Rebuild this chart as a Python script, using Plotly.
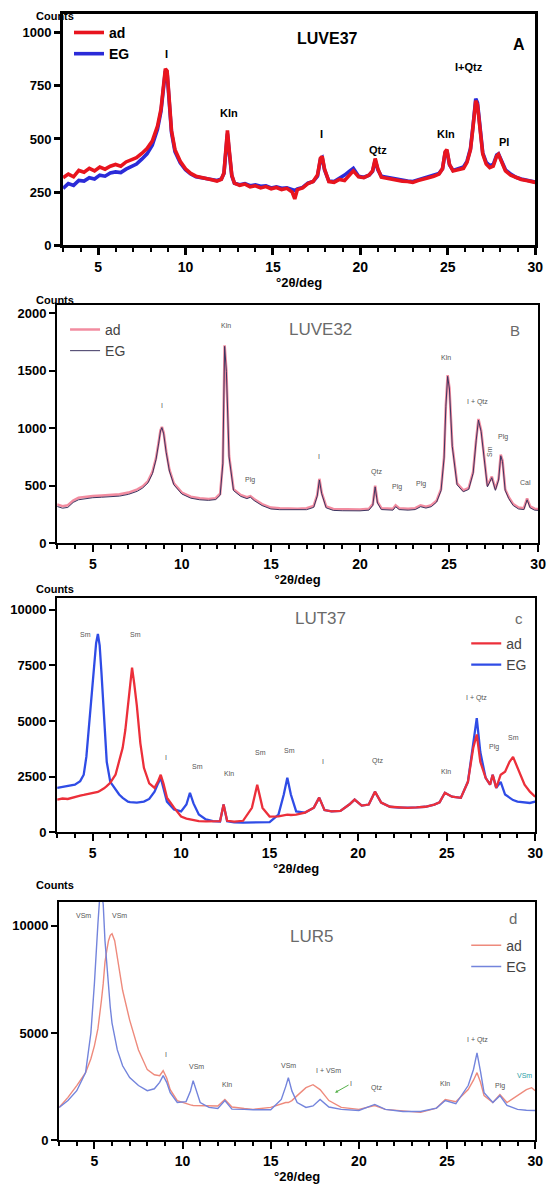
import plotly.graph_objects as go

W, H = 556, 1186

# ---------------- Panel A : LUVE37 ----------------
x_a = [
    3.0, 3.3, 3.6, 3.9, 4.2, 4.5, 4.8, 5.1, 5.4, 5.7,
    6.0, 6.3, 6.6, 6.9, 7.2, 7.5, 7.8, 8.1, 8.4, 8.6,
    8.75, 8.85, 8.95, 9.05, 9.2, 9.4, 9.7, 10.0, 10.3, 10.6,
    10.9, 11.2, 11.5, 11.8, 12.05, 12.2, 12.32, 12.4, 12.5, 12.65,
    12.8, 13.1, 13.4, 13.7, 14.0, 14.3, 14.6, 14.9, 15.2, 15.5,
    15.8, 16.1, 16.25, 16.4, 16.7, 17.0, 17.3, 17.55, 17.72, 17.82,
    17.95, 18.2, 18.5, 18.8, 19.1, 19.4, 19.6, 19.9, 20.2, 20.5,
    20.7, 20.85, 21.0, 21.2, 21.5, 21.8, 22.1, 22.4, 22.7, 23.0,
    23.3, 23.6, 23.9, 24.2, 24.5, 24.7, 24.85, 24.95, 25.1, 25.3,
    25.6, 25.9, 26.1, 26.3, 26.45, 26.6, 26.7, 26.85, 27.0, 27.2,
    27.4, 27.6, 27.8, 27.9, 28.05, 28.3, 28.6, 28.9, 29.2, 29.5,
    29.8, 30.0,
]
ad_a = [
    318, 335, 322, 352, 344, 362, 350, 368, 358, 372,
    380, 372, 392, 400, 412, 432, 455, 490, 560, 640,
    750, 830, 820, 700, 540, 450, 395, 360, 338, 325,
    318, 312, 308, 302, 310, 340, 460, 540, 450, 330,
    292, 282, 288, 275, 280, 270, 276, 266, 272, 262,
    268, 250, 218, 262, 270, 290, 300, 330, 410, 418,
    360, 300, 296, 310, 305, 330, 350, 322, 318, 330,
    350, 408, 360, 320, 315, 308, 305, 302, 300, 296,
    305, 310, 318, 325, 335, 360, 440, 450, 380, 350,
    355, 362, 390, 450, 560, 680, 660, 540, 430, 382,
    365, 372, 420, 428, 395, 350, 330, 318, 310, 305,
    298, 296,
]
eg_a = [
    268, 290, 282, 305, 302, 318, 312, 330, 325, 340,
    345, 342, 358, 368, 382, 405, 430, 470, 545, 630,
    745, 820, 810, 690, 530, 440, 388, 355, 335, 322,
    318, 315, 310, 305, 312, 338, 450, 525, 440, 325,
    292, 285, 290, 280, 284, 278, 280, 270, 275, 268,
    270, 262, 258, 265, 272, 292, 300, 325, 405, 412,
    355, 302, 300, 315, 330, 350, 362, 325, 320, 330,
    348, 400, 355, 325, 320, 315, 310, 305, 302, 300,
    308, 312, 320, 328, 338, 360, 435, 445, 378, 352,
    360, 368, 395, 455, 565, 690, 670, 545, 435, 390,
    375, 380, 425, 430, 400, 355, 335, 320, 312, 308,
    300, 298,
]
lab_a = ["I", "Kln", "I", "Qtz", "Kln", "I+Qtz", "Pl"]
lab_a_x = [8.9, 12.5, 17.8, 21.0, 24.9, 26.2, 28.2]
lab_a_y = [900, 623, 523, 450, 523, 837, 487]

# ---------------- Panel B : LUVE32 ----------------
x_b = [
    3.0, 3.3, 3.6, 3.9, 4.2, 4.6, 5.0, 5.5, 6.0, 6.5,
    7.0, 7.5, 7.8, 8.1, 8.35, 8.55, 8.7, 8.8, 8.88, 8.98,
    9.12, 9.3, 9.55, 10.0, 10.5, 11.0, 11.5, 11.9, 12.15, 12.3,
    12.4, 12.5, 12.65, 12.9, 13.3, 13.65, 13.85, 14.05, 14.5, 15.0,
    15.5, 16.0, 16.5, 17.0, 17.4, 17.6, 17.72, 17.85, 18.1, 18.5,
    19.0, 19.5, 20.0, 20.5, 20.72, 20.85, 20.98, 21.2, 21.6, 21.85,
    22.0, 22.2, 22.7, 23.1, 23.4, 23.7, 24.0, 24.3, 24.55, 24.72,
    24.82, 24.92, 25.02, 25.18, 25.45, 25.8, 26.1, 26.35, 26.52, 26.65,
    26.8, 26.95, 27.15, 27.4, 27.6, 27.78, 27.9, 28.0, 28.15, 28.35,
    28.6, 28.9, 29.2, 29.38, 29.55, 29.8, 30.0,
]
ad_b = [
    338, 322, 330, 372, 395, 405, 410, 414, 418, 425,
    440, 468, 495, 540, 620, 740, 880, 980, 1010, 960,
    800, 640, 520, 440, 405, 390, 385, 392, 430, 700,
    1720, 1500, 760, 470, 420, 400, 410, 385, 340, 310,
    305, 302, 300, 305, 325, 420, 560, 440, 320, 298,
    295, 292, 294, 300, 340, 500, 360, 305, 298, 300,
    330, 305, 300, 305, 330, 318, 330, 370, 470, 750,
    1200, 1460, 1350, 850, 520, 460, 480, 620, 900, 1080,
    980, 760, 500, 580, 470, 560, 770, 720, 470, 400,
    340, 310, 305, 390, 320, 300, 298,
]
eg_b = [
    320, 305, 312, 355, 378, 390, 396, 400, 404, 410,
    425, 452, 480, 525, 605, 728, 870, 975, 1005, 950,
    790, 628, 508, 428, 392, 378, 373, 380, 418, 690,
    1710, 1490, 750, 458, 408, 388, 400, 372, 328, 298,
    292, 290, 288, 292, 312, 410, 550, 430, 308, 286,
    283, 280, 282, 288, 330, 490, 350, 293, 286, 288,
    318, 293, 288, 293, 318, 306, 318, 358, 458, 740,
    1190, 1450, 1340, 840, 508, 448, 468, 608, 890, 1070,
    970, 750, 490, 570, 460, 550, 760, 710, 460, 388,
    328, 298, 293, 378, 308, 288, 286,
]
lab_b = ["I", "Kln", "Plg", "I", "Qtz", "Plg", "Plg", "Kln", "I + Qtz", "Plg", "Cal"]
lab_b_x = [8.9, 12.5, 13.8, 17.7, 20.9, 22.1, 23.4, 24.8, 26.6, 28.0, 29.3]
lab_b_y = [1198, 1888, 550, 750, 620, 490, 517, 1612, 1224, 922, 525]

# ---------------- Panel C : LUT37 ----------------
x_c = [
    3.0, 3.3, 3.6, 4.0, 4.3, 4.5, 4.65, 4.8, 4.95, 5.1,
    5.2, 5.3, 5.4, 5.5, 5.65, 5.8, 6.0, 6.3, 6.5, 6.7,
    6.85, 7.0, 7.12, 7.23, 7.35, 7.5, 7.7, 7.9, 8.2, 8.5,
    8.7, 8.85, 9.0, 9.2, 9.6, 10.0, 10.3, 10.5, 10.7, 11.0,
    11.4, 11.8, 12.2, 12.4, 12.6, 13.0, 13.5, 14.0, 14.3, 14.6,
    15.0, 15.5, 15.8, 16.0, 16.2, 16.5, 17.0, 17.5, 17.8, 18.1,
    18.5, 19.0, 19.5, 19.8, 20.2, 20.6, 20.95, 21.3, 21.8, 22.3,
    22.8, 23.3, 23.8, 24.3, 24.6, 24.9, 25.3, 25.8, 26.2, 26.5,
    26.7, 26.9, 27.2, 27.45, 27.6, 27.8, 28.05, 28.3, 28.55, 28.75,
    29.0, 29.4, 29.7, 30.0,
]
ad_c = [
    1470, 1520, 1500, 1600, 1650, 1680, 1700, 1720, 1760, 1780,
    1800, 1820, 1860, 1900, 1980, 2080, 2230, 2600, 3170, 3800,
    4600, 5700, 6700, 7400, 6700, 5700, 4000, 2900, 2200, 2000,
    2300, 2590, 2200, 1560, 1110, 710, 620, 580, 540, 500,
    490, 480, 500, 1250, 520, 480, 520, 1100, 2140, 1100,
    710, 720, 760, 800, 780, 800, 890, 1110, 1560, 1000,
    940, 960, 1250, 1470, 1200, 1250, 1830, 1340, 1150, 1110,
    1100, 1120, 1150, 1250, 1350, 1780, 1600, 1550, 2270, 3790,
    4400, 3170, 2450, 2140, 2590, 2000, 2590, 2720, 3170, 3390,
    2940, 2140, 1830, 1600,
]
eg_c = [
    2000, 2050, 2080, 2140, 2300, 2590, 3400, 4800, 6000, 7300,
    8500, 8920, 8400, 7200, 5260, 3170, 2270, 1900, 1700, 1550,
    1450, 1380, 1360, 1350, 1340, 1340, 1360, 1380, 1500, 1830,
    2200, 2450, 2000, 1380, 1030, 940, 1250, 1780, 1300, 800,
    580, 500, 490, 1250, 500, 450, 440, 450, 460, 450,
    460, 800, 1700, 2450, 1700, 940, 890, 1110, 1560, 1000,
    940, 960, 1250, 1470, 1200, 1250, 1830, 1340, 1150, 1110,
    1100, 1120, 1150, 1250, 1350, 1780, 1600, 1550, 2270, 4060,
    5130, 3610, 2450, 2140, 2590, 2000, 2270, 1700, 1560, 1450,
    1380, 1340, 1320, 1380,
]
lab_c = ["Sm", "Sm", "I", "Sm", "Kln", "Sm", "Sm", "I", "Qtz", "Kln", "I + Qtz", "Plg", "Sm"]
lab_c_x = [4.6, 7.4, 9.15, 10.9, 12.7, 14.5, 16.1, 18.0, 21.1, 24.95, 26.7, 27.7, 28.8]
lab_c_y = [8875, 8875, 3345, 2940, 2630, 3610, 3660, 3170, 3210, 2720, 6020, 3835, 4280]

# ---------------- Panel D : LUR5 ----------------
x_d = [
    3.0, 3.5, 4.0, 4.5, 4.8, 5.0, 5.2, 5.3, 5.4, 5.5,
    5.6, 5.7, 5.8, 5.9, 6.0, 6.15, 6.3, 6.6, 7.0, 7.5,
    8.0, 8.4, 8.7, 8.9, 9.1, 9.3, 9.7, 10.2, 10.45, 10.6,
    10.8, 11.0, 11.5, 12.0, 12.4, 12.8, 13.5, 14.0, 15.0, 15.6,
    15.85, 16.0, 16.2, 16.5, 17.0, 17.4, 17.8, 18.3, 19.0, 20.0,
    20.9, 21.5, 22.5, 23.5, 24.4, 24.9, 25.5, 26.2, 26.5, 26.7,
    26.9, 27.1, 27.6, 28.0, 28.4, 29.0, 29.5, 29.8, 30.0,
]
eg_d = [
    1530, 1850, 2310, 3150, 5000, 7300, 10100, 11300, 11600, 11000,
    9300, 8100, 7000, 6200, 5460, 4800, 4210, 3470, 2920, 2550,
    2310, 2400, 2700, 3010, 2700, 2220, 1760, 1800, 2300, 2780,
    2300, 1760, 1530, 1480, 1850, 1450, 1440, 1420, 1420, 1900,
    2500, 2920, 2300, 1760, 1530, 1600, 1900, 1550, 1440, 1390,
    1670, 1440, 1340, 1340, 1500, 1850, 1700, 2550, 3300, 4070,
    3200, 2220, 1760, 2080, 1620, 1440, 1400, 1390, 1390,
]
ad_d = [
    1530, 2000, 2550, 3150, 3800, 4400, 5200, 5800, 6530, 7300,
    8300, 8840, 9300, 9550, 9630, 9300, 8560, 6990, 5600, 4210,
    3290, 3050, 3010, 3240, 2900, 2360, 1850, 1700, 1650, 1620,
    1620, 1620, 1600, 1600, 1900, 1550, 1480, 1440, 1530, 1700,
    1760, 1760, 1850, 2080, 2450, 2590, 2360, 1850, 1530, 1440,
    1620, 1440, 1360, 1300, 1500, 1900, 1800, 2360, 2800, 3150,
    2700, 2080, 1760, 2130, 1760, 2080, 2360, 2450, 2310,
]
lab_d = ["VSm", "VSm", "I", "VSm", "Kln", "VSm", "I + VSm", "Qtz", "Kln", "I + Qtz", "Plg"]
lab_d_x = [4.4, 6.4, 9.05, 10.8, 12.5, 16.0, 18.25, 21.0, 24.9, 26.7, 28.0]
lab_d_y = [10460, 10460, 3980, 3430, 2590, 3470, 3240, 2450, 2640, 4680, 2540]

titles = ["LUVE37", "LUVE32", "LUT37", "LUR5"]
letters = ["A", "B", "c", "d"]
y_max = [1088, 2070, 10535, 11110]
y_step = [250, 500, 2500, 5000]

# plot-area pixel boxes: left, right, top, bottom
boxes = [(64, 543, 14, 247), (58, 546, 307, 547), (58, 543, 602, 838), (60, 543, 908, 1148)]
counts_offset = [6, 13, 9, 9]

FONT = "Liberation Sans"
fig = go.Figure()

def ax(i, kind):
    return kind if i == 0 else f"{kind}{i + 1}"

series = [
    (x_a, ad_a, eg_a, "#e8141e", "#2b2bd8", 3.6, 3.6, False),
    (x_b, ad_b, eg_b, "#f28ca0", "#3c3560", 2.6, 1.0, False),
    (x_c, ad_c, eg_c, "#ec2f3a", "#2f4ce6", 2.3, 2.3, False),
    (x_d, ad_d, eg_d, "#ee8a7c", "#7384dc", 1.4, 1.4, True),
]
for i, (xs, ad, eg, cad, ceg, wad, weg, eg_top) in enumerate(series):
    leg = "legend" if i == 0 else f"legend{i + 1}"
    t_ad = go.Scatter(x=xs, y=ad, mode="lines", name="ad", legend=leg, legendrank=1,
                      line=dict(color=cad, width=wad), xaxis=ax(i, "x"), yaxis=ax(i, "y"))
    t_eg = go.Scatter(x=xs, y=eg, mode="lines", name="EG", legend=leg, legendrank=2,
                      line=dict(color=ceg, width=weg), xaxis=ax(i, "x"), yaxis=ax(i, "y"))
    if i == 1 or eg_top:
        fig.add_trace(t_ad); fig.add_trace(t_eg)
    else:
        fig.add_trace(t_eg); fig.add_trace(t_ad)

layout = dict(width=W, height=H, margin=dict(l=0, r=0, t=0, b=0),
              paper_bgcolor="white", plot_bgcolor="white", showlegend=True)

annotations = []
for i, (l, r, t, b) in enumerate(boxes):
    lw = 3 if i == 0 else 2.2
    xa = dict(domain=[l / W, r / W], range=[3, 30], anchor=ax(i, "y"),
              showline=True, mirror=True, linecolor="black", linewidth=lw,
              ticks="outside", ticklen=7, tickwidth=lw, tickcolor="black",
              tick0=0, dtick=5, showgrid=False, zeroline=False,
              minor=dict(dtick=1, ticks="outside", ticklen=4, tickwidth=max(1.5, lw - 1), tickcolor="black"),
              tickfont=dict(family=FONT, size=14, color="black", weight="bold"),
              title=dict(text="°2θ/deg", font=dict(family=FONT, size=13, color="black", weight="bold"),
                         standoff=2))
    ya = dict(domain=[1 - b / H, 1 - t / H], range=[0, y_max[i]], anchor=ax(i, "x"),
              showline=True, mirror=True, linecolor="black", linewidth=lw,
              ticks="outside", ticklen=6, tickwidth=lw, tickcolor="black",
              tick0=0, dtick=y_step[i], tickformat="d", showgrid=False, zeroline=False,
              tickfont=dict(family=FONT, size=13, color="black", weight="bold"))
    layout["xaxis" if i == 0 else f"xaxis{i + 1}"] = xa
    layout["yaxis" if i == 0 else f"yaxis{i + 1}"] = ya
    # "Counts" label above the y axis
    annotations.append(dict(text="Counts", xref="paper", yref="paper", x=34 / W,
                            y=1 - (t - counts_offset[i]) / H, showarrow=False,
                            font=dict(family=FONT, size=11, color="black", weight="bold")))

# titles and letters
bold_a = dict(family=FONT, size=16, color="black", weight="bold")
title_pos = [(18.1, 974), (17.8, 1853), (17.9, 9630), (17.3, 9490)]
letter_pos = [(29.1, 942), (28.7, 1845), (29.1, 9590), (28.75, 10320)]
for i in range(4):
    f_t = bold_a if i == 0 else dict(family=FONT, size=17, color="#6a6a6a")
    f_l = bold_a if i == 0 else dict(family=FONT, size=15, color="#6a6a6a")
    annotations.append(dict(text=titles[i], x=title_pos[i][0], y=title_pos[i][1],
                            xref=ax(i, "x"), yref=ax(i, "y"), showarrow=False, font=f_t))
    annotations.append(dict(text=letters[i], x=letter_pos[i][0], y=letter_pos[i][1],
                            xref=ax(i, "x"), yref=ax(i, "y"), showarrow=False, font=f_l))

for txt, xv, yv in zip(lab_a, lab_a_x, lab_a_y):
    annotations.append(dict(text=txt, x=xv, y=yv, xref="x", yref="y", showarrow=False,
                            font=dict(family=FONT, size=11, color="black", weight="bold")))
small = dict(family=FONT, size=7, color="#555555")
for txt, xv, yv in zip(lab_b, lab_b_x, lab_b_y):
    annotations.append(dict(text=txt, x=xv, y=yv, xref="x2", yref="y2", showarrow=False, font=small))
annotations.append(dict(text="Sm", x=27.3, y=793, xref="x2", yref="y2", showarrow=False,
                        textangle=-90, font=small))
for txt, xv, yv in zip(lab_c, lab_c_x, lab_c_y):
    annotations.append(dict(text=txt, x=xv, y=yv, xref="x3", yref="y3", showarrow=False, font=small))
for txt, xv, yv in zip(lab_d, lab_d_x, lab_d_y):
    annotations.append(dict(text=txt, x=xv, y=yv, xref="x4", yref="y4", showarrow=False, font=small))
annotations.append(dict(text="VSm", x=29.4, y=3000, xref="x4", yref="y4", showarrow=False,
                        font=dict(family=FONT, size=7, color="#2e9ea6")))
annotations.append(dict(text="I", x=18.65, y=2220, xref="x4", yref="y4", showarrow=True,
                        ax=16, ay=-9, arrowhead=2, arrowsize=0.6, arrowwidth=1,
                        arrowcolor="#55b04a", font=small))
layout["annotations"] = annotations

leg_common = dict(bgcolor="rgba(0,0,0,0)", borderwidth=0, tracegroupgap=0, itemwidth=30,
                  traceorder="normal")
layout["legend"] = dict(leg_common, x=70 / W, y=1 - 17 / H, xanchor="left", yanchor="top",
                        font=dict(family=FONT, size=14, color="black", weight="bold"))
layout["legend2"] = dict(leg_common, x=66 / W, y=1 - 316 / H, xanchor="left", yanchor="top",
                         font=dict(family=FONT, size=14, color="#444444"))
layout["legend3"] = dict(leg_common, x=540 / W, y=1 - 632 / H, xanchor="right", yanchor="top",
                         font=dict(family=FONT, size=14, color="#444444"))
layout["legend4"] = dict(leg_common, x=540 / W, y=1 - 936 / H, xanchor="right", yanchor="top",
                         font=dict(family=FONT, size=14, color="#444444"))

fig.update_layout(**layout)
fig.write_html("out.html")
